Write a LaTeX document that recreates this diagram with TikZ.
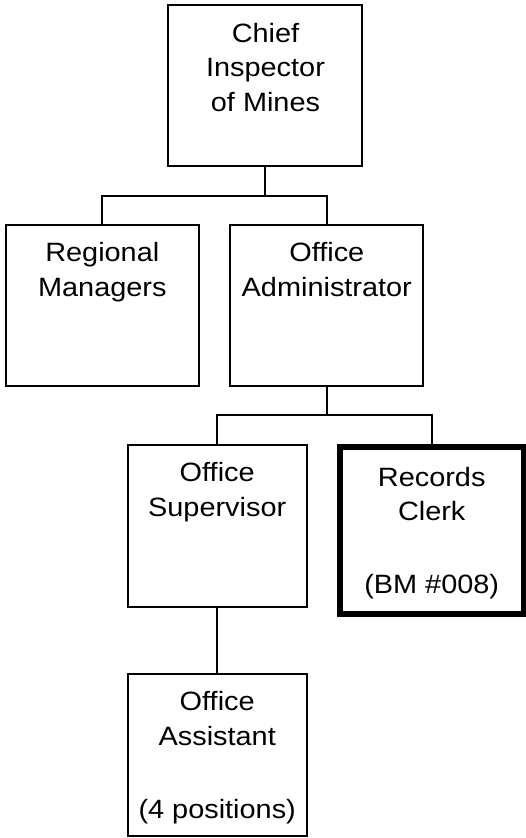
\documentclass[tikz,border=0pt]{standalone}
\usepackage{fontspec}
\setmainfont{Liberation Sans}[FakeStretch=1.09]
\begin{document}
\begin{tikzpicture}[x=1pt,y=-1pt,
  orgbox/.style={draw, line width=2pt, inner sep=0pt, outer sep=0pt},
  keybox/.style={draw, line width=6pt, inner sep=0pt, outer sep=0pt},
  lbl/.style={anchor=base, inner sep=0pt, font=\fontsize{26.5}{32}\selectfont},
  wire/.style={line width=2pt}]
\useasboundingbox (0,0) rectangle (526,838);
% boxes
\node[orgbox, minimum width=194pt, minimum height=161pt] (chief) at (265,85.5) {};
\node[orgbox, minimum width=193.3pt, minimum height=161.6pt] (regional) at (102.3,305.5) {};
\node[orgbox, minimum width=193pt, minimum height=161.6pt] (admin) at (326.8,305.5) {};
\node[orgbox, minimum width=179pt, minimum height=162pt] (super) at (217.2,525.7) {};
\node[keybox, minimum width=184pt, minimum height=167.5pt] (records) at (431.7,530.25) {};
\node[orgbox, minimum width=179pt, minimum height=162.6pt] (assist) at (217.2,755) {};
% labels
\node[lbl] (c1) at (265.5,42) {Chief};
\node[lbl] (c2) at (265.5,76.7) {Inspector};
\node[lbl] (c3) at (265.5,111) {of Mines};
\node[lbl] (r1) at (102.3,261.7) {Regional};
\node[lbl] (r2) at (102.3,296.2) {Managers};
\node[lbl] (a1) at (326.8,261.7) {Office};
\node[lbl] (a2) at (326.8,296.2) {Administrator};
\node[lbl] (s1) at (217.2,481.7) {Office};
\node[lbl] (s2) at (217.2,516.7) {Supervisor};
\node[lbl] (k1) at (431.7,486) {Records};
\node[lbl] (k2) at (431.7,520.7) {Clerk};
\node[lbl] (k3) at (431.7,593.3) {(BM \#008)};
\node[lbl] (o1) at (217.2,710) {Office};
\node[lbl] (o2) at (217.2,745) {Assistant};
\node[lbl] (o3) at (217.2,818.3) {(4 positions)};
% connectors
\coordinate (bus1) at (265,196);
\coordinate (bus2) at (326.8,415);
\draw[wire] (chief.south) -- (bus1);
\draw[wire] (regional.north) |- (bus1) -| (admin.north);
\draw[wire] (admin.south) -- (bus2);
\draw[wire] (super.north) |- (bus2) -| (records.north);
\draw[wire] (super.south) -- (assist.north);
\end{tikzpicture}
\end{document}
